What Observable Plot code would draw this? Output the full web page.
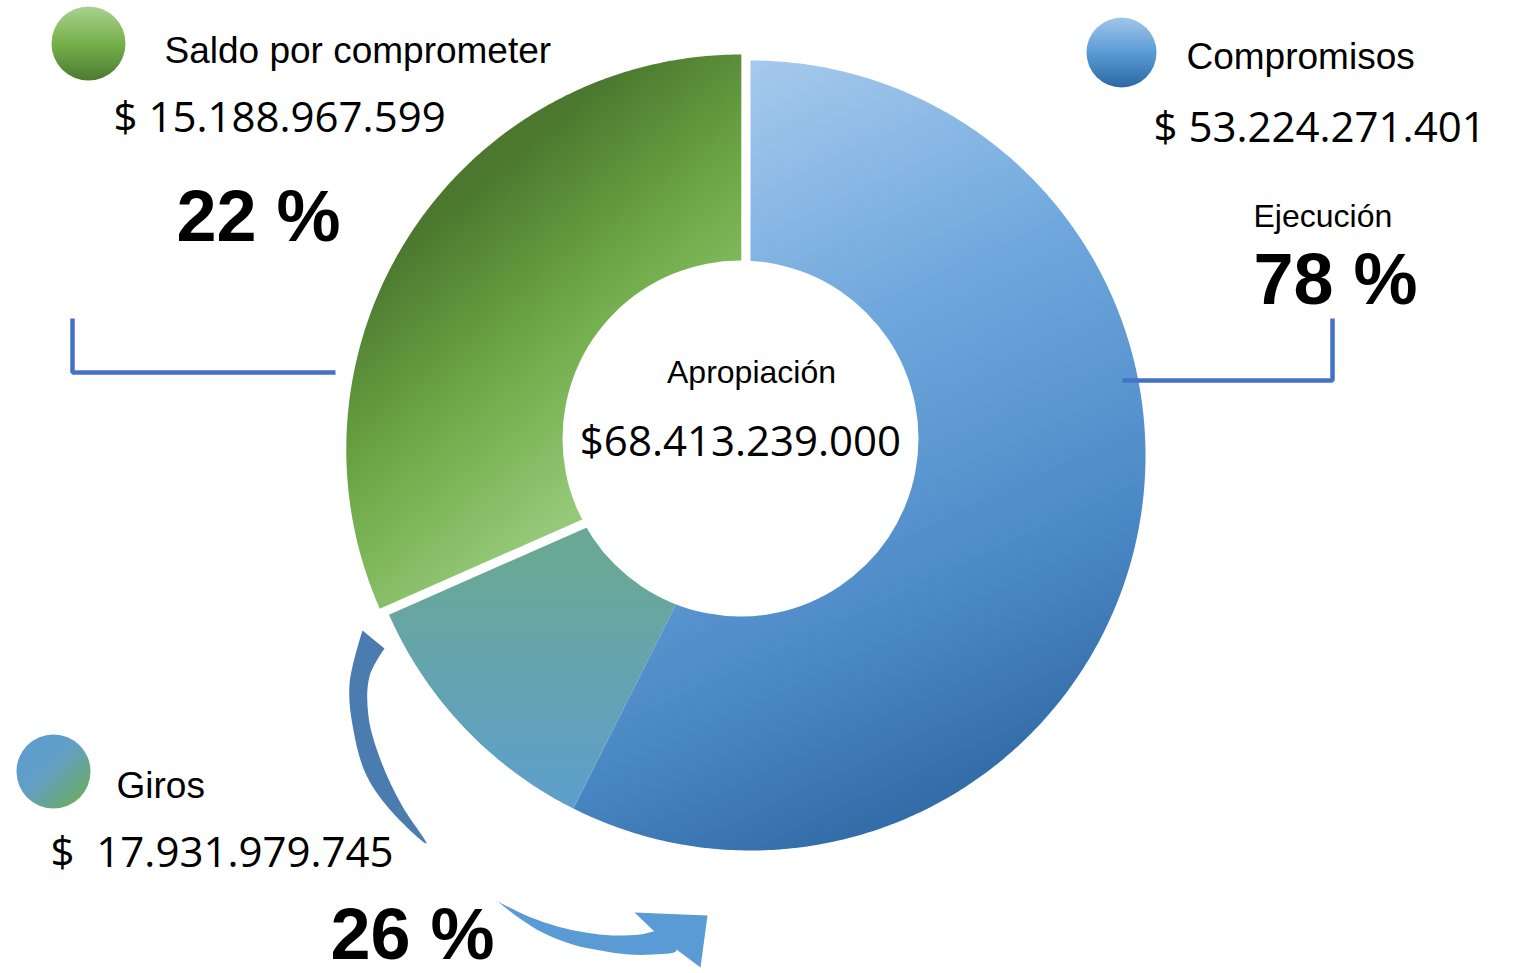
<!DOCTYPE html>
<html><head><meta charset="utf-8">
<script src="https://cdn.jsdelivr.net/npm/d3@7"></script>
<script src="https://cdn.jsdelivr.net/npm/@observablehq/plot@0.6"></script>
<style>
html,body{margin:0;padding:0;background:#fff;}
#chart svg{display:block;}
</style></head><body><div id="chart"></div>
<script>
// ---------------- data ----------------
const categories = ["Compromisos", "Giros", "Saldo por comprometer"];
const amounts = ["$ 53.224.271.401", "$\u00a0\u00a017.931.979.745", "$ 15.188.967.599"];
const percents = ["78 %", "26 %", "22 %"];
// share of the circle each slice occupies as drawn (%)
const sliceShare = [57.4, 11.0, 31.6];
const totalLabel = "Apropiación";
const totalAmount = "$68.413.239.000";
const executionLabel = "Ejecución";

// ---------------- layout ----------------
const W = 1514, H = 973;
const pie = {cx: 750, cy: 455, r: 395, explode: [0, 0, 11]};
const hole = {x: 740, y: 438, r: 178};
const sliceFills = ["url(#gBlue)", "url(#gTeal)", "url(#gGreen)"];
const legendPos = [
  {x: 1121, y: 52, r: 35, fill: "url(#gLegBlue)", nameX: 1186, nameY: 68, amtX: 1153, amtY: 141},
  {x: 53, y: 771, r: 37, fill: "url(#gLegGiros)", nameX: 116, nameY: 797, amtX: 50, amtY: 866},
  {x: 88, y: 43, r: 37, fill: "url(#gLegGreen)", nameX: 164, nameY: 62, amtX: 113, amtY: 131}
];
const pctPos = [{x: 1253, y: 303}, {x: 330, y: 958}, {x: 176, y: 240}];
const execPos = {x: 1253, y: 226};
const centerPos = {x: 751, y1: 382, x2: 740, y2: 455};
const bracketLeft = [[72, 318], [72, 372], [335, 372]];
const bracketRight = [[1122, 380], [1332, 380], [1332, 318]];
const swoosh = [[362, 630], [349, 684], [353, 730], [366, 775], [392, 812], [426, 843],
                [402, 806], [381, 762], [368, 716], [369, 676], [384, 648]];
const arrowBody = [[497, 901], [528, 916], [557, 926], [585, 932], [612, 935], [640, 934], [660, 931],
                   [676, 950], [652, 954], [628, 954], [600, 950], [572, 944], [540, 931], [515, 915]];
const arrowHead = [[634, 912], [707, 915], [700, 967], [676, 949], [656, 933]];

// ---------------- geometry ----------------
const total = d3.sum(sliceShare);
const slicePts = [];
let acc = 0;
categories.forEach((c, i) => {
  const a0 = acc / total * 2 * Math.PI;
  acc += sliceShare[i];
  const a1 = acc / total * 2 * Math.PI;
  const am = (a0 + a1) / 2;
  const cx = pie.cx + pie.explode[i] * Math.sin(am);
  const cy = pie.cy - pie.explode[i] * Math.cos(am);
  slicePts.push({cat: c, x: cx, y: cy});
  const n = Math.max(8, Math.ceil((a1 - a0) / 0.01));
  for (let k = 0; k <= n; k++) {
    const a = a0 + (a1 - a0) * k / n;
    slicePts.push({cat: c, x: cx + pie.r * Math.sin(a), y: cy - pie.r * Math.cos(a)});
  }
});
const pts = arr => arr.map(([x, y]) => ({x, y}));

const legendData = categories.map((c, i) => ({cat: c, amount: amounts[i], pct: percents[i], ...legendPos[i], px: pctPos[i].x, py: pctPos[i].y}));

const arial = "Liberation Sans, Arial, sans-serif";
const numFont = "Open Sans, Noto Sans, sans-serif";

const svg = Plot.plot({
  width: W, height: H,
  margin: 0,
  x: {domain: [0, W], range: [0, W], axis: null},
  y: {domain: [0, H], range: [0, H], axis: null},
  style: {background: "#fff", overflow: "visible"},
  marks: [
    ...categories.map((c, i) => Plot.line(slicePts.filter(d => d.cat === c), {x: "x", y: "y", fill: sliceFills[i], stroke: "none"})),
    Plot.dot([hole], {x: "x", y: "y", r: hole.r, fill: "#fff", stroke: "none"}),
    Plot.line(pts(swoosh), {x: "x", y: "y", fill: "#4a7cb0", stroke: "none", curve: "catmull-rom"}),
    Plot.line(pts(arrowBody), {x: "x", y: "y", fill: "#5b9bd5", stroke: "none", curve: "catmull-rom"}),
    Plot.line(pts(arrowHead), {x: "x", y: "y", fill: "#5b9bd5", stroke: "none"}),
    Plot.line(pts(bracketLeft), {x: "x", y: "y", stroke: "#4472c4", strokeWidth: 4.5, strokeLinejoin: "miter", strokeLinecap: "butt"}),
    Plot.line(pts(bracketRight), {x: "x", y: "y", stroke: "#4472c4", strokeWidth: 4.5, strokeLinejoin: "miter", strokeLinecap: "butt"}),
    ...legendData.map(d => Plot.dot([d], {x: "x", y: "y", r: d.r, fill: d.fill, stroke: "none"})),
    Plot.text(legendData, {x: "nameX", y: "nameY", text: "cat", textAnchor: "start", lineAnchor: "bottom", fontSize: 37, fontFamily: arial, fill: "#000", ariaLabel: "shadowed"}),
    Plot.text(legendData, {x: "amtX", y: "amtY", text: "amount", textAnchor: "start", lineAnchor: "bottom", fontSize: 42, fontFamily: numFont, fill: "#000", ariaLabel: "shadowed"}),
    Plot.text(legendData, {x: "px", y: "py", text: "pct", textAnchor: "start", lineAnchor: "bottom", fontSize: 72, fontWeight: "bold", fontFamily: arial, fill: "#000"}),
    Plot.text([executionLabel], {x: execPos.x, y: execPos.y, text: d => d, textAnchor: "start", lineAnchor: "bottom", fontSize: 32, fontFamily: arial, fill: "#000", ariaLabel: "shadowed"}),
    Plot.text([totalLabel], {x: centerPos.x, y: centerPos.y1, text: d => d, textAnchor: "middle", lineAnchor: "bottom", fontSize: 32, fontFamily: arial, fill: "#000", ariaLabel: "shadowed"}),
    Plot.text([totalAmount], {x: centerPos.x2, y: centerPos.y2, text: d => d, textAnchor: "middle", lineAnchor: "bottom", fontSize: 42, fontFamily: numFont, fill: "#000", ariaLabel: "shadowed"})
  ]
});

// gradients & shadow filter
const defs = d3.select(svg).insert("defs", ":first-child");
function grad(id, attrs, stops) {
  const g = defs.append("linearGradient").attr("id", id);
  Object.entries(attrs).forEach(([k, v]) => g.attr(k, v));
  stops.forEach(([o, c]) => g.append("stop").attr("offset", o).attr("stop-color", c));
}
grad("gBlue", {gradientUnits: "userSpaceOnUse", x1: 740, y1: 70, x2: 1080, y2: 800},
  [[0, "#a5c9ec"], [0.35, "#6ea7dd"], [0.7, "#4b89c6"], [1, "#2b639e"]]);
grad("gGreen", {gradientUnits: "userSpaceOnUse", x1: 420, y1: 230, x2: 620, y2: 470},
  [[0, "#4b782e"], [0.5, "#6ea946"], [1, "#95c978"]]);
grad("gTeal", {gradientUnits: "userSpaceOnUse", x1: 0, y1: 560, x2: 0, y2: 800},
  [[0, "#69a895"], [1, "#5e9fcc"]]);
grad("gLegGreen", {x1: 0, y1: 0, x2: 0, y2: 1},
  [[0, "#a9d28e"], [0.5, "#76b14b"], [1, "#4c7a31"]]);
grad("gLegBlue", {x1: 0, y1: 0, x2: 0, y2: 1},
  [[0, "#a2c6ea"], [0.5, "#5b9bd5"], [1, "#2c68a4"]]);
grad("gLegGiros", {x1: 0, y1: 0, x2: 1, y2: 1},
  [[0, "#5a9bd6"], [0.45, "#62a0c4"], [1, "#6fae4c"]]);
const f = defs.append("filter").attr("id", "txtShadow")
  .attr("x", "-5%").attr("y", "-20%").attr("width", "115%").attr("height", "150%");
f.append("feDropShadow").attr("dx", 2).attr("dy", 2).attr("stdDeviation", 1.3)
  .attr("flood-color", "#000").attr("flood-opacity", 0.4);
d3.select(svg).selectAll('g[aria-label="shadowed"]').attr("filter", "url(#txtShadow)");

document.getElementById("chart").appendChild(svg);
</script></body></html>
